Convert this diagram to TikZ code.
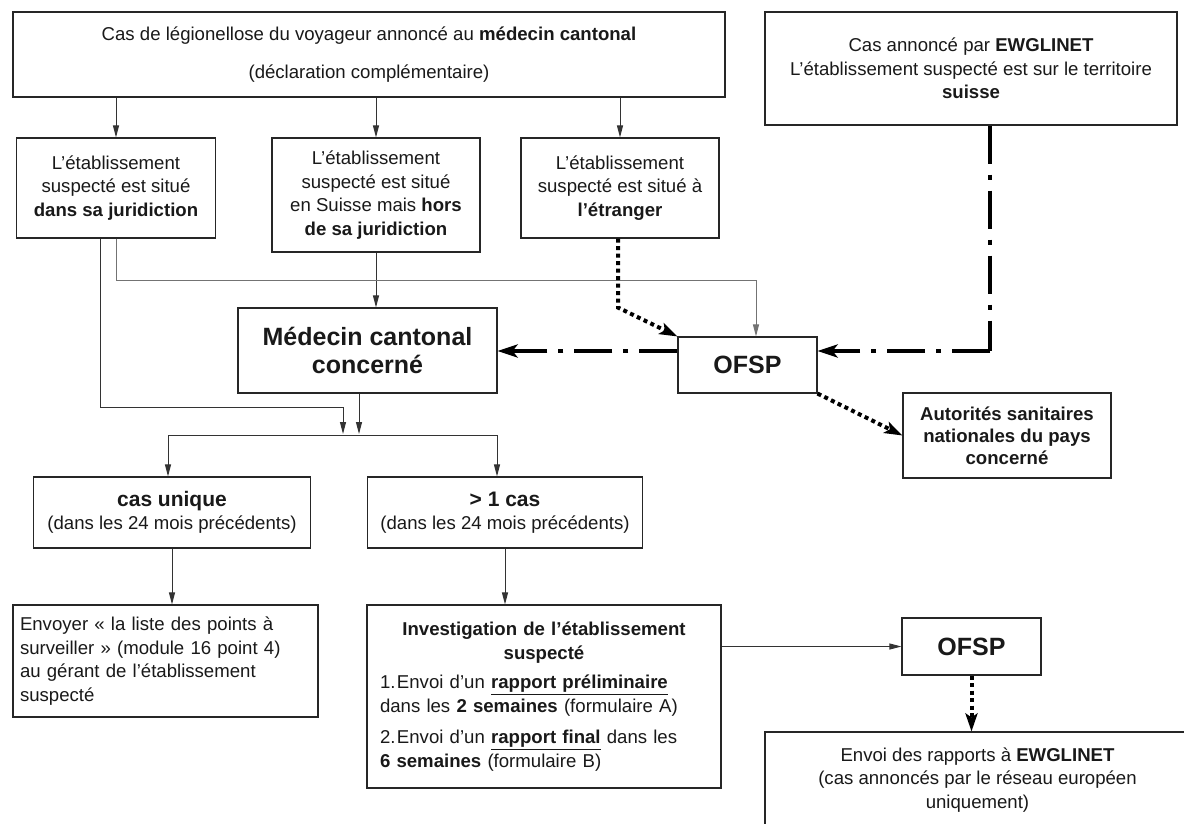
\documentclass[tikz,border=0pt]{standalone}
\usepackage{fontspec}
\setmainfont{Liberation Sans}
\usetikzlibrary{arrows.meta,calc}
\newcommand\fsn{\fontsize{18.6}{23.5}\selectfont}
\newcommand\fsbig{\fontsize{25}{28}\selectfont\bfseries}
\newcommand\fsmid{\fontsize{21}{24}\selectfont\bfseries}
\begin{document}
\begin{tikzpicture}[x=1pt,y=-1pt,
  box/.style={draw=black!85, line width=1.1pt, inner sep=0pt, align=center, font=\fsn, text=black!90},
  conn/.style={draw=black!80, line width=1pt},
  arr/.style={conn, -{Triangle[length=12pt,width=6pt]}},
  grayarr/.style={draw=black!55, line width=1pt, -{Triangle[length=12pt,width=6pt]}},
  dotarr/.style={draw=black, line width=4pt, dash pattern=on 4pt off 3.5pt, -{Stealth[length=18pt,width=12pt,inset=4pt]}},
  dasharr/.style={draw=black, line width=4.5pt, dash pattern=on 38pt off 11pt on 5pt off 11pt, -{Stealth[length=20pt,width=13pt,inset=5pt]}},
  dashline/.style={draw=black, line width=4.5pt, dash pattern=on 38pt off 11pt on 5pt off 11pt}
]
\useasboundingbox (0,0) rectangle (1184,823);
\fill[white] (0,0) rectangle (1184,823);

% boxes
\node[box, minimum width=712pt, minimum height=85pt] (top) at (369,54.5)
  {Cas de légionellose du voyageur annoncé au \textbf{médecin cantonal}\\[14pt](déclaration complémentaire)};
\node[box, minimum width=412pt, minimum height=113pt] (ew) at (971,68.5)
  {Cas annoncé par \textbf{EWGLINET}\\L’établissement suspecté est sur le territoire\\\textbf{suisse}};
\node[box, minimum width=199pt, minimum height=100pt] (b1) at (116,188)
  {L’établissement\\suspecté est situé\\\textbf{dans sa juridiction}};
\node[box, minimum width=208pt, minimum height=114pt] (b2) at (376,195)
  {L’établissement\\suspecté est situé\\en Suisse mais \textbf{hors}\\\textbf{de sa juridiction}};
\node[box, minimum width=198pt, minimum height=100pt] (b3) at (620,188)
  {L’établissement\\suspecté est situé à\\\textbf{l’étranger}};
\node[box, minimum width=259pt, minimum height=85pt, font=\fsbig] (med) at (367.5,350.5)
  {Médecin cantonal\\concerné};
\node[box, minimum width=139pt, minimum height=56pt, font=\fsbig] (ofsp) at (747.5,365) {OFSP};
\node[box, minimum width=208pt, minimum height=85pt, font=\fontsize{18.6}{22}\selectfont\bfseries] (aut) at (1007,435.5)
  {Autorités sanitaires\\nationales du pays\\concerné};
\node[box, minimum width=277pt, minimum height=71pt] (cu) at (172,512.5)
  {{\fsmid cas unique}\\(dans les 24 mois précédents)};
\node[box, minimum width=275pt, minimum height=71pt] (mc) at (505,512.5)
  {{\fsmid > 1 cas}\\(dans les 24 mois précédents)};
\node[box, minimum width=305pt, minimum height=112pt, text width=291pt, inner xsep=7pt, align=left] (env) at (165.5,661)
  {Envoyer « la liste des points à\\surveiller » (module 16 point 4)\\au gérant de l’établissement\\suspecté};
\node[box, minimum width=354pt, minimum height=183pt, text width=328pt, inner xsep=13pt, align=left] (inv) at (544,696.5)
  {{\centering\bfseries Investigation de l’établissement\\suspecté\par}\vspace{6pt}
   \hangindent=17pt\hangafter=1\noindent\makebox[17pt][l]{1.}Envoi d’un \underline{\textbf{rapport préliminaire}}\\dans les \textbf{2 semaines} (formulaire A)\par\vspace{8pt}
   \hangindent=17pt\hangafter=1\noindent\makebox[17pt][l]{2.}Envoi d’un \underline{\textbf{rapport final}} dans les\\\textbf{6 semaines} (formulaire B)\par};
\node[box, minimum width=139pt, minimum height=57pt, font=\fsbig] (ofsp2) at (971.5,646.5) {OFSP};
\node[box, minimum width=425pt, minimum height=96pt] (envoi) at (977.5,780)
  {Envoi des rapports à \textbf{EWGLINET}\\(cas annoncés par le réseau européen\\uniquement)};

% junction coordinates
\coordinate (jA) at (343,434);
\coordinate (jB) at (359,434);
\coordinate (brL) at (168,435);
\coordinate (brR) at (497,435);

% connectors
\draw[arr] (top.south -| b1.north) -- (b1.north);
\draw[arr] (top.south -| b2.north) -- (b2.north);
\draw[arr] (top.south -| b3.north) -- (b3.north);
\draw[arr] (b2.south) -- (b2.south |- med.north);
\draw[grayarr] (b1.south) -- ++(0,42) -| ([xshift=8.5pt]ofsp.north);
\draw[arr] ([xshift=-16pt]b1.south) -- ++(0,169) -| (jA);
\draw[arr] (med.south -| jB) -- (jB);
\draw[conn] (brL) -- (brR);
\draw[arr] (brL) -- (brL |- cu.north);
\draw[arr] (brR) -- (brR |- mc.north);
\draw[arr] (cu.south) -- (cu.south |- env.north);
\draw[arr] (mc.south) -- (mc.south |- inv.north);
\draw[arr] (inv.east |- ofsp2.west) -- (ofsp2.west);
\draw[dotarr] ([xshift=-2pt]b3.south) -- ++(0,69) -- (ofsp.north west);
\draw[dotarr] (ofsp.south east) -- (aut.west);
\draw[dotarr] (ofsp2.south) -- (ofsp2.south |- envoi.north);
\draw[dasharr] ([yshift=14pt]ofsp.west) -- ([yshift=14pt]ofsp.west -| med.east);
\draw[dashline] ([xshift=19pt]ew.south) -- ([xshift=19pt]ew.south |- 0,351);
\draw[dasharr] ([xshift=19pt]ew.south |- 0,351) -- ([yshift=14pt]ofsp.east);
\end{tikzpicture}
\end{document}
